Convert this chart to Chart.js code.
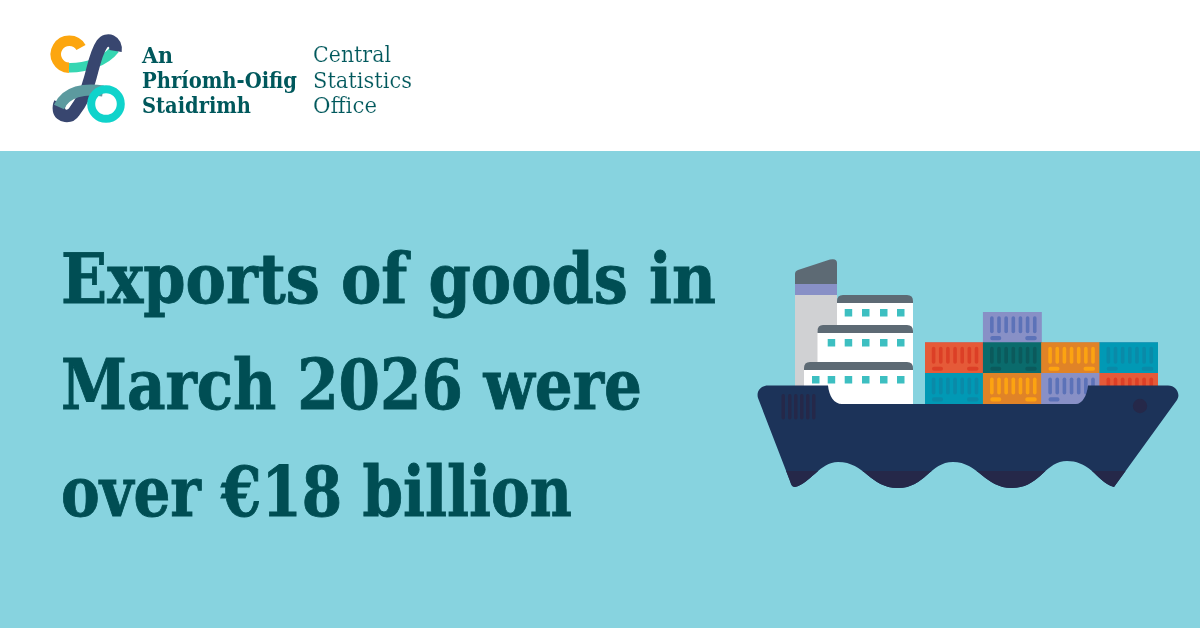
<!DOCTYPE html>
<html>
<head>
<meta charset="utf-8">
<title>Exports of goods in March 2026</title>
<script src="https://cdn.jsdelivr.net/npm/chart.js@4"></script>
<style>
html,body{margin:0;padding:0;background:#87d3df;}
#page{position:relative;width:1200px;height:628px;overflow:hidden;background:#87d3df;}
#head{position:absolute;left:0;top:0;width:1200px;height:151px;background:#fff;}
svg.layer{position:absolute;left:0;top:0;width:1200px;height:628px;}
#back{z-index:1;}
#boxes{position:absolute;left:925px;top:312px;width:233px;height:92px;z-index:2;}
#front{z-index:3;}
#words{z-index:4;}
.big{font-family:'DejaVu Serif';font-weight:700;font-size:69px;fill:#004e54;stroke:#004e54;stroke-width:0.9;}
.ga{font-family:'DejaVu Serif';font-weight:700;font-size:23px;fill:#00585c;}
.en{font-family:'DejaVu Serif';font-size:22px;fill:#00585c;stroke:#fff;stroke-width:0.2;}
</style>
</head>
<body>
<div id="page">
<div id="head"></div>

<svg id="back" class="layer" viewBox="0 0 1200 628">
  <!-- logo -->
  <g fill="none" stroke-linecap="butt">
    <path d="M69 67.7 C85 68 105 62 115 49" stroke="#36d6b2" stroke-width="9.5"/>
    <path d="M81 47.5 A13.5 13.5 0 1 0 69 67.7" stroke="#fca60f" stroke-width="10.5"/>
    <path d="M115.5 51 C117 41 107 37 102 44 C95 54 93 70 89 82 C86 95 80 104 74 112 C70 118 60 117 59 110 C58.5 107 59 105 60 103" stroke="#38466f" stroke-width="12.5"/>
    <path d="M103 91 C85 88 66 91 59 107" stroke="#5c9a9f" stroke-width="11"/>
    <circle cx="106" cy="104" r="14.8" stroke="#10d3cb" stroke-width="8"/>
  </g>
  <!-- funnel -->
  <rect x="795" y="295" width="42" height="95" fill="#d0d1d3"/>
  <rect x="795" y="284" width="42" height="11" fill="#8890c6"/>
  <path d="M795 284 V274 Q795 271 798 270 L830 259.5 Q837 258 837 263 V284 Z" fill="#5d6a74"/>
  <!-- cabins -->
  <rect x="837" y="300" width="76" height="30" fill="#fff"/>
  <path d="M837 303 V301 Q837 295 843 295 H907 Q913 295 913 301 V303 Z" fill="#5d6a74"/>
  <rect x="817.5" y="330" width="95.5" height="36" fill="#fff"/>
  <path d="M817.5 333 V331 Q817.5 325 823 325 H907 Q913 325 913 331 V333 Z" fill="#5d6a74"/>
  <rect x="804" y="367" width="109" height="38" fill="#fff"/>
  <path d="M804 370 V368 Q804 362 810 362 H907 Q913 362 913 368 V370 Z" fill="#5d6a74"/>
  <g fill="#3dbfc1">
    <rect x="844.7" y="309" width="7.5" height="7.5"/><rect x="862" y="309" width="7.5" height="7.5"/><rect x="880" y="309" width="7.5" height="7.5"/><rect x="897" y="309" width="7.5" height="7.5"/>
    <rect x="827.7" y="339" width="7.5" height="7.5"/><rect x="844.7" y="339" width="7.5" height="7.5"/><rect x="862" y="339" width="7.5" height="7.5"/><rect x="880" y="339" width="7.5" height="7.5"/><rect x="897" y="339" width="7.5" height="7.5"/>
    <rect x="812" y="376" width="7.5" height="7.5"/><rect x="827.7" y="376" width="7.5" height="7.5"/><rect x="844.7" y="376" width="7.5" height="7.5"/><rect x="862" y="376" width="7.5" height="7.5"/><rect x="880" y="376" width="7.5" height="7.5"/><rect x="897" y="376" width="7.5" height="7.5"/>
  </g>
</svg>

<div id="boxes"><canvas id="containers"></canvas></div>

<svg id="front" class="layer" viewBox="0 0 1200 628">
  <defs>
    <clipPath id="hullClip"><path d="M768 385.5 H828 C829 396 834 404 842 404 H1076 C1082 404 1087 396 1088 385.5 H1168 C1176 385.5 1181 394 1177 400 L1114 487 C1104 484 1098 476 1092 471 C1084 464 1076 461 1067 461 C1045 461 1040 488 1012 488 C985 488 978 462 953 462 C930 462 925 488 898 488 C870 488 865 462 838 462 C820 462 810 484 795 487 C792 487 791 484 790 481 L758 398 C756 391 761 385.5 768 385.5 Z"/></clipPath>
  </defs>
  <g clip-path="url(#hullClip)">
    <rect x="750" y="380" width="440" height="115" fill="#1c3359"/>
    <rect x="750" y="471" width="440" height="24" fill="#252849"/>
  </g>
  <circle cx="1140" cy="406" r="7.2" fill="#252849"/>
  <g fill="#252849">
    <rect x="781.5" y="394" width="3.5" height="25.5" rx="1.7"/><rect x="788" y="394" width="3.5" height="25.5" rx="1.7"/><rect x="794" y="394" width="3.5" height="25.5" rx="1.7"/><rect x="800" y="394" width="3.5" height="25.5" rx="1.7"/><rect x="806" y="394" width="3.5" height="25.5" rx="1.7"/><rect x="812" y="394" width="3.5" height="25.5" rx="1.7"/>
  </g>
</svg>

<svg id="words" class="layer" viewBox="0 0 1200 628">
  <text class="ga" x="142" y="62.5" textLength="31" lengthAdjust="spacingAndGlyphs">An</text>
  <text class="ga" x="142" y="88" textLength="155" lengthAdjust="spacingAndGlyphs">Phríomh-Oifig</text>
  <text class="ga" x="142" y="112.5" textLength="109" lengthAdjust="spacingAndGlyphs">Staidrimh</text>
  <text class="en" x="313" y="62" textLength="78" lengthAdjust="spacingAndGlyphs">Central</text>
  <text class="en" x="313" y="88" textLength="99" lengthAdjust="spacingAndGlyphs">Statistics</text>
  <text class="en" x="313" y="113" textLength="64" lengthAdjust="spacingAndGlyphs">Office</text>
  <text class="big" x="61" y="303" textLength="655" lengthAdjust="spacingAndGlyphs">Exports of goods in</text>
  <text class="big" x="61" y="409" textLength="581" lengthAdjust="spacingAndGlyphs">March 2026 were</text>
  <text class="big" x="61" y="516" textLength="511" lengthAdjust="spacingAndGlyphs">over €18 billion</text>
</svg>
</div>

<script>
/* containers on deck, one bar per stack */
const stacks = ['A', 'B', 'C', 'D'];
const tierOne = [1, 1, 1, 1];
const tierTwo = [1, 1, 1, 1];
const tierThree = [0, 1, 0, 0];

const teal = '#0199b5', orange = '#e08327', lilac = '#8890c6', red = '#e55a38', green = '#0a6b6c';
const tierOneColours = [teal, orange, lilac, red];
const tierTwoColours = [red, green, orange, teal];
const tierThreeColours = [lilac, lilac, lilac, lilac];

const ribColours = {};
ribColours[teal] = '#0a8aa8';
ribColours[orange] = '#fca311';
ribColours[lilac] = '#5c72b8';
ribColours[red] = '#dc3f26';
ribColours[green] = '#0b5a5c';

/* door ribs and the two little handles on each container */
const doorRibs = {
    id: 'doorRibs',
    afterDatasetsDraw(chart) {
        const ctx = chart.ctx;
        chart.data.datasets.forEach((ds, i) => {
            chart.getDatasetMeta(i).data.forEach((bar, j) => {
                if (!ds.data[j]) return;
                const left = bar.x - bar.width / 2;
                const top = bar.y;
                ctx.fillStyle = ribColours[ds.backgroundColor[j]];
                for (let k = 0; k < 7; k++) {
                    ctx.beginPath();
                    ctx.roundRect(left + 6.8 + k * 7.15, top + 4.2, 3.6, 17, 1.8);
                    ctx.fill();
                }
                ctx.beginPath();
                ctx.roundRect(left + 7, top + 24, 11, 4.2, 2);
                ctx.roundRect(left + 42, top + 24, 11.5, 4.2, 2);
                ctx.fill();
            });
        });
    }
};

new Chart(document.getElementById('containers'), {
    type: 'bar',
    data: {
        labels: stacks,
        datasets: [
            {data: tierOne, backgroundColor: tierOneColours, barPercentage: 1, categoryPercentage: 1},
            {data: tierTwo, backgroundColor: tierTwoColours, barPercentage: 1, categoryPercentage: 1},
            {data: tierThree, backgroundColor: tierThreeColours, barPercentage: 1, categoryPercentage: 1}
        ]
    },
    options: {
        responsive: true, maintainAspectRatio: false, animation: false,
        layout: {padding: 0},
        plugins: {legend: {display: false}, tooltip: {enabled: false}},
        scales: {
            x: {stacked: true, display: false},
            y: {stacked: true, display: false, min: 0, max: 3}
        }
    },
    plugins: [doorRibs]
});
</script>
</body>
</html>
